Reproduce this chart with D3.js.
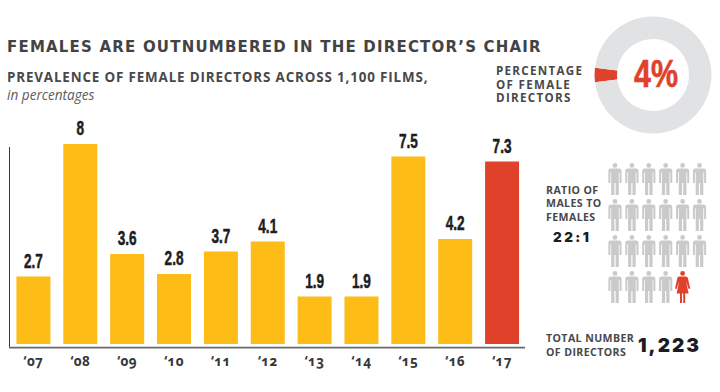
<!DOCTYPE html>
<html lang="en">
<head>
    <meta charset="UTF-8">
    <title>Females are outnumbered in the director's chair</title>
    <style>
        html, body { margin: 0; padding: 0; background: #fff; }
        svg { display: block; }
        .title { font-family: 'DejaVu Sans', sans-serif; font-weight: 700; font-size: 15px; letter-spacing: 1.2px; fill: #434345; }
        .subtitle { font-family: 'Open Sans', sans-serif; font-weight: 700; font-size: 13.4px; letter-spacing: 0.85px; fill: #48484a; }
        .unit { font-family: 'Open Sans', sans-serif; font-style: italic; font-size: 13.6px; fill: #5c5c5e; }
        .note { font-family: 'Open Sans', sans-serif; font-weight: 700; font-size: 10.6px; letter-spacing: 0.4px; fill: #48484a; }
        .note.wide { font-size: 11.6px; letter-spacing: 1.3px; }
        .value { font-family: 'Liberation Sans', sans-serif; font-weight: 700; font-size: 20px; fill: #1d1d1f; stroke: #1d1d1f; stroke-width: 0.5px; text-anchor: middle; }
        .year { font-family: 'Open Sans', sans-serif; font-weight: 700; font-size: 13.5px; letter-spacing: 0.4px; font-variant-numeric: oldstyle-nums; fill: #37383c; text-anchor: middle; }
        .big { font-family: 'Inter', sans-serif; font-weight: 900; fill: #1d1d1f; }
        .pct { font-family: 'Liberation Sans', sans-serif; font-weight: 700; font-size: 39px; fill: #e0412a; stroke: #e0412a; stroke-width: 0.6px; text-anchor: middle; }
    </style>
</head>
<body>
    <svg width="720" height="392"></svg>

    <script src="https://d3js.org/d3.v7.min.js"></script>
    <script>

        const years = ["'07", "'08", "'09", "'10", "'11", "'12", "'13", "'14", "'15", "'16", "'17"];
        const prevalence = [2.7, 8, 3.6, 2.8, 3.7, 4.1, 1.9, 1.9, 7.5, 4.2, 7.3];
        const valueLabels = ['2.7', '8', '3.6', '2.8', '3.7', '4.1', '1.9', '1.9', '7.5', '4.2', '7.3'];

        const donutValues = [4, 96];
        const maleCount = 22;
        const femaleCount = 1;

        const yellow = '#fdbc16';
        const red = '#e0412a';
        const grey = '#c9cacc';

        const svg = d3.select('svg');

        // Headings

        svg.append('text').attr('class', 'title').attr('x', 7).attr('y', 52)
            .text('FEMALES ARE OUTNUMBERED IN THE DIRECTOR\u2019S CHAIR');
        svg.append('text').attr('class', 'subtitle').attr('x', 7).attr('y', 82)
            .text('PREVALENCE OF FEMALE DIRECTORS ACROSS 1,100 FILMS,');
        svg.append('text').attr('class', 'unit').attr('x', 7).attr('y', 100)
            .text('in percentages');

        // Bars

        const xScale = d3.scaleBand()
            .domain(years)
            .range([16.5 - 6.5, 519 + 6.5])
            .paddingInner(0.275)
            .paddingOuter(0.1375);

        const yScale = d3.scaleLinear()
            .domain([0, 8])
            .range([344, 144]);

        svg.selectAll('.bar')
            .data(years)
            .enter()
            .append('rect')
            .attr('class', 'bar')
            .attr('x', function (d) { return xScale(d); })
            .attr('width', xScale.bandwidth())
            .attr('y', function (d, i) { return yScale(prevalence[i]); })
            .attr('height', function (d, i) { return yScale(0) - yScale(prevalence[i]); })
            .attr('fill', function (d, i) { return i === years.length - 1 ? red : yellow; });

        // The labels are a condensed face in the original, so squeeze them
        svg.selectAll('.value')
            .data(years)
            .enter()
            .append('text')
            .attr('class', 'value')
            .attr('transform', function (d, i) {
                const x = xScale(d) + xScale.bandwidth() / 2;
                return 'translate(' + x + ' ' + (yScale(prevalence[i]) - 9) + ') scale(0.68 1)';
            })
            .text(function (d, i) { return valueLabels[i]; });

        svg.selectAll('.year')
            .data(years)
            .enter()
            .append('text')
            .attr('class', 'year')
            .attr('x', function (d) { return xScale(d) + xScale.bandwidth() / 2; })
            .attr('y', 366)
            .text(function (d) { return d.replace("'", '\u2018'); });

        // Axis lines

        svg.append('line')
            .attr('x1', 9.5).attr('x2', 9.5).attr('y1', 147).attr('y2', 348)
            .attr('stroke', '#3a3a3a')
            .attr('stroke-width', 1);

        svg.append('line')
            .attr('x1', 9).attr('x2', 525).attr('y1', 347.7).attr('y2', 347.7)
            .attr('stroke', '#6a6a6c')
            .attr('stroke-width', 1.7);

        // Donut

        const pie = d3.pie()
            .sort(null)
            .startAngle(Math.PI * 1.5 - Math.PI * 0.04)
            .endAngle(Math.PI * 3.5 - Math.PI * 0.04);

        const arc = d3.arc().innerRadius(36).outerRadius(58.5);

        const donut = svg.append('g').attr('transform', 'translate(653 75)');

        donut.selectAll('path')
            .data(pie(donutValues))
            .enter()
            .append('path')
            .attr('d', arc)
            .attr('fill', function (d, i) { return i === 0 ? red : '#e1e2e4'; });

        donut.append('text').attr('class', 'pct')
            .attr('transform', 'translate(3 12) scale(0.78 1)')
            .text(donutValues[0] + '%');

        const noteLines = function (lines, cls, x, y, step) {
            lines.forEach(function (line, i) {
                svg.append('text').attr('class', cls).attr('x', x).attr('y', y + i * step).text(line);
            });
        };

        noteLines(['PERCENTAGE', 'OF FEMALE', 'DIRECTORS'], 'note wide', 496, 75, 13.7);
        noteLines(['RATIO OF', 'MALES TO', 'FEMALES'], 'note', 546, 194, 13.4);
        noteLines(['TOTAL NUMBER', 'OF DIRECTORS'], 'note', 546, 342, 13.6);

        svg.append('text').attr('class', 'big').attr('x', 553).attr('y', 241.5)
            .attr('font-size', 13.5).attr('letter-spacing', 2.4).text('22:1');
        svg.append('text').attr('class', 'big').attr('x', 638).attr('y', 352)
            .attr('font-size', 19).attr('letter-spacing', 2).text('1,223');

        // Pictogram: 6 people a row

        const people = d3.range(maleCount + femaleCount);

        const colScale = d3.scalePoint().domain(d3.range(6)).range([615, 699.5]);
        const rowScale = d3.scalePoint().domain(d3.range(4)).range([163, 271]);

        const manPath = 'M0 0a2.4 2.4 0 1 1 0 4.8a2.4 2.4 0 1 1 0-4.8z'
            + 'M-4 5.6H4a2.6 2.6 0 0 1 2.6 2.6V20H4.6V9.5H3.8V32H0.6V20H-0.6V32H-3.8V9.5H-4.6V20H-6.6V8.2A2.6 2.6 0 0 1 -4 5.6z';
        const womanPath = 'M0 0a2.4 2.4 0 1 1 0 4.8a2.4 2.4 0 1 1 0-4.8z'
            + 'M-3 5.6H3C4.6 5.6 5 6.4 5.4 7.4L7.6 17.5L6 18L3.4 10L6 22.5H2.6V32H0.6V22.5H-0.6V32H-2.6V22.5H-6L-3.4 10L-6 18L-7.6 17.5L-5.4 7.4C-5 6.4 -4.6 5.6 -3 5.6z';

        svg.selectAll('.person')
            .data(people)
            .enter()
            .append('path')
            .attr('class', 'person')
            .attr('transform', function (d) {
                return 'translate(' + colScale(d % 6) + ' ' + rowScale(Math.floor(d / 6)) + ')';
            })
            .attr('d', function (d) { return d < maleCount ? manPath : womanPath; })
            .attr('fill', function (d) { return d < maleCount ? grey : red; });

    </script>
</body>
</html>
